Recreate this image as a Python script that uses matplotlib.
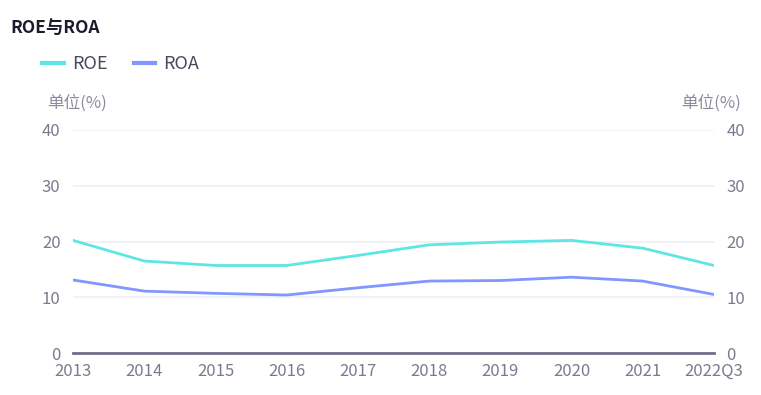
import matplotlib
matplotlib.use("Agg")
import matplotlib.pyplot as plt
import numpy as np

plt.rcParams['font.family'] = ['Noto Sans CJK SC', 'DejaVu Sans']

# 数据
years = ["2013", "2014", "2015", "2016", "2017", "2018", "2019", "2020", "2021", "2022Q3"]
roe = [20.2, 16.5, 15.7, 15.7, 17.5, 19.4, 19.9, 20.2, 18.8, 15.7]
roa = [13.1, 11.1, 10.7, 10.4, 11.7, 12.9, 13.0, 13.6, 12.9, 10.5]
yticks = [0, 10, 20, 30, 40]

W, H = 761, 395
fig = plt.figure(figsize=(W / 100, H / 100), dpi=100)
ax = fig.add_axes([73 / W, 1 - 353 / H, 641 / W, 223 / H])

x = np.arange(len(years))
ax.plot(x, roe, color='#5de6e4', lw=2, label='ROE', solid_joinstyle='round')
ax.plot(x, roa, color='#8196ff', lw=2, label='ROA', solid_joinstyle='round')

ax.set_xlim(0, len(years) - 1)
ax.set_ylim(0, 40)
ax.set_yticks(yticks)
ax.set_xticks(x)
ax.set_xticklabels(years)
ax.grid(axis='y', color='#eef0f5', lw=1.2)
ax.set_axisbelow(True)
for s in ['top', 'left', 'right']:
    ax.spines[s].set_visible(False)
ax.spines['bottom'].set_color('#6e6e8c')
ax.spines['bottom'].set_linewidth(2)
ax.tick_params(axis='both', length=0, labelsize=12, colors='#7b7b8e')
ax.tick_params(axis='y', pad=9, labelright=True)
ax.tick_params(axis='x', pad=7)

# 标题、单位
fig.text(10 / W, 1 - 28 / H, 'ROE与ROA', fontsize=12.5, fontweight='bold',
         color='#1c1c2c', va='center', ha='left')
fig.text(47 / W, 1 - 103 / H, '单位(%)', fontsize=12, color='#8a8a9e',
         va='center', ha='left')
fig.text(741 / W, 1 - 103 / H, '单位(%)', fontsize=12, color='#8a8a9e',
         va='center', ha='right')

# 图例
leg = fig.legend(loc='center left', bbox_to_anchor=(42 / W, 1 - 64 / H), ncol=2,
                 frameon=False, fontsize=13, handlelength=1.2, handletextpad=0.45,
                 columnspacing=1.45, borderpad=0, borderaxespad=0)
for t in leg.get_texts():
    t.set_color('#4a4a5e')
for h in leg.legend_handles:
    h.set_linewidth(3)

fig.savefig('out.png', dpi=100)
